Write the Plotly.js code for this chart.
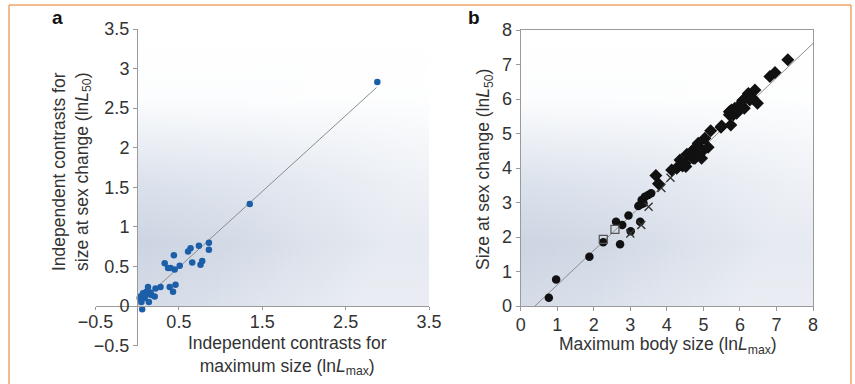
<!DOCTYPE html>
<html>
<head>
<meta charset="utf-8">
<script src="https://cdn.plot.ly/plotly-3.0.1.min.js"></script>
<style>html,body{margin:0;padding:0;background:#fff;}#chart{width:855px;height:384px;}</style>
</head>
<body>
<div id="chart"></div>
<script>
// ---------- Panel a: independent contrasts ----------
const contrastMaxSize = [0.06,0.04,0.07,0.11,0.13,0.09,0.14,0.17,0.21,0.22,0.05,0.28,0.03,0.08,0.16,0.12,0.39,0.46,0.43,0.33,0.37,0.40,0.45,0.44,0.51,0.61,0.64,0.66,0.74,0.76,0.78,0.86,0.86,1.35,2.88];
const contrastSexChange = [-0.04,0.12,0.16,0.18,0.24,0.10,0.05,0.14,0.12,0.22,0.05,0.24,0.10,0.13,0.17,0.15,0.24,0.27,0.18,0.54,0.48,0.48,0.46,0.64,0.51,0.69,0.73,0.55,0.76,0.52,0.57,0.80,0.71,1.29,2.83];
const fitAx = [0, 2.87];
const fitAy = [0.01, 2.76];
const aXTicks = [-0.5, 0.5, 1.5, 2.5, 3.5];
const aXTickText = ['\u22120.5','0.5','1.5','2.5','3.5'];
const aYTicks = [-0.5, 0, 0.5, 1, 1.5, 2, 2.5, 3, 3.5];
const aYTickText = ['\u22120.5','0','0.5','1','1.5','2','2.5','3','3.5'];

// ---------- Panel b: raw sizes ----------
const circleMax = [0.77,0.97,1.88,2.26,2.61,2.72,2.78,2.95,3.01,3.27,3.22,3.31,3.40,3.49,3.57,3.30,3.36];
const circleL50 = [0.24,0.77,1.43,1.85,2.44,1.79,2.35,2.62,2.17,2.44,2.90,3.07,3.17,3.22,3.27,2.95,2.98];
const squareMax = [2.26, 2.58];
const squareL50 = [1.93, 2.22];
const crossMax = [3.00, 3.30, 3.50, 3.85, 4.10];
const crossL50 = [2.10, 2.35, 2.88, 3.42, 3.72];
const diamondMax = [3.70,3.77,4.13,4.27,4.31,4.36,4.43,4.50,4.52,4.55,4.63,4.68,4.72,4.72,4.77,4.77,4.82,4.86,4.86,4.91,4.95,4.95,5.04,5.13,5.20,5.48,5.50,5.75,5.71,5.71,5.77,5.82,5.86,5.91,5.96,6.00,6.07,6.12,6.09,6.23,6.27,6.35,6.41,6.48,6.82,6.96,7.31];
const diamondL50 = [3.78,3.54,3.94,3.99,4.04,4.23,4.06,4.14,4.04,4.40,4.38,4.47,4.52,4.28,4.57,4.28,4.43,4.64,4.72,4.43,4.28,4.47,4.86,4.60,5.08,5.18,5.22,5.25,5.63,5.54,5.68,5.54,5.73,5.59,5.68,5.83,5.94,5.73,5.97,6.16,5.97,6.02,6.26,5.88,6.65,6.77,7.14];
const fitBx = [0.39, 8];
const fitBy = [0, 7.61];
const bTicks = [0,1,2,3,4,5,6,7,8];

const FONT = 'Liberation Sans, Arial, Helvetica, sans-serif';
const TXT = '#333333';
const AX = '#9a9a9a';

function gradientSvg() {
  const svg = "<svg xmlns='http://www.w3.org/2000/svg' width='100' height='100' viewBox='0 0 100 100' preserveAspectRatio='none'>" +
    "<defs>" +
    "<linearGradient id='v' x1='0' y1='0' x2='0' y2='1'>" +
    "<stop offset='0' stop-color='#ffffff'/>" +
    "<stop offset='0.25' stop-color='#fcfdfe'/>" +
    "<stop offset='0.55' stop-color='#d9e0eb'/>" +
    "<stop offset='0.78' stop-color='#c7d0df'/>" +
    "<stop offset='1' stop-color='#d0d8e5'/>" +
    "</linearGradient>" +
    "<linearGradient id='h' x1='0' y1='0' x2='1' y2='0.35'>" +
    "<stop offset='0' stop-color='#ffffff' stop-opacity='0'/>" +
    "<stop offset='0.5' stop-color='#ffffff' stop-opacity='0.2'/>" +
    "<stop offset='1' stop-color='#ffffff' stop-opacity='0.55'/>" +
    "</linearGradient>" +
    "</defs>" +
    "<rect x='0' y='0' width='100' height='100' fill='url(#v)'/>" +
    "<rect x='0' y='0' width='100' height='100' fill='url(#h)'/>" +
    "</svg>";
  return 'data:image/svg+xml;charset=utf-8,' + encodeURIComponent(svg);
}

const traces = [
  {x: fitAx, y: fitAy, xaxis:'x', yaxis:'y', mode:'lines', line:{color:'#8c8c8c', width:1}, hoverinfo:'skip', showlegend:false},
  {x: contrastMaxSize, y: contrastSexChange, xaxis:'x', yaxis:'y', mode:'markers', type:'scatter',
   marker:{color:'#1c5fa8', size:6.5}, showlegend:false},
  {x: fitBx, y: fitBy, xaxis:'x2', yaxis:'y2', mode:'lines', line:{color:'#8c8c8c', width:1}, hoverinfo:'skip', showlegend:false},
  {x: circleMax, y: circleL50, xaxis:'x2', yaxis:'y2', mode:'markers', marker:{symbol:'circle', color:'#111', size:8.5}, showlegend:false},
  {x: squareMax, y: squareL50, xaxis:'x2', yaxis:'y2', mode:'markers', marker:{symbol:'square-open', color:'#555', size:8, line:{width:1.2}}, showlegend:false},
  {x: crossMax, y: crossL50, xaxis:'x2', yaxis:'y2', mode:'markers', marker:{symbol:'x-thin-open', color:'#333', size:8, line:{width:1.4, color:'#333'}}, showlegend:false},
  {x: diamondMax, y: diamondL50, xaxis:'x2', yaxis:'y2', mode:'markers', marker:{symbol:'diamond', color:'#111', size:10}, showlegend:false}
];

const W = 855, H = 384;
const px = v => v / W;
const py = v => 1 - v / H;

const tickFont = {family: FONT, size: 18, color: TXT};
const titleFont = {family: FONT, size: 17.5, color: TXT};

function label(text, x, y, extra) {
  return Object.assign({text: text, xref:'paper', yref:'paper', x: px(x), y: py(y),
    xanchor:'center', yanchor:'middle', showarrow:false, font: titleFont, align:'center'}, extra || {});
}

const layout = {
  width: W, height: H,
  margin: {l:0, r:0, t:0, b:0},
  paper_bgcolor: '#ffffff',
  plot_bgcolor: 'rgba(0,0,0,0)',
  showlegend: false,
  font: {family: FONT, color: TXT},
  xaxis: {
    domain: [px(95.5), px(429)], range: [-0.5, 3.5],
    anchor: 'free', position: py(306),
    showline: true, linecolor: AX, linewidth: 1,
    ticks: 'outside', ticklen: 3, tickcolor: AX, tickwidth: 1, ticklabelstandoff: -4,
    tickvals: aXTicks, ticktext: aXTickText, tickfont: tickFont,
    showgrid: false, zeroline: false, fixedrange: true
  },
  yaxis: {
    domain: [py(345.6), py(29)], range: [-0.5, 3.5],
    anchor: 'free', position: px(137),
    showline: true, linecolor: AX, linewidth: 1,
    ticks: 'outside', ticklen: 4, tickcolor: AX, tickwidth: 1,
    tickvals: aYTicks, ticktext: aYTickText, tickfont: tickFont,
    showgrid: false, zeroline: false, fixedrange: true
  },
  xaxis2: {
    domain: [px(520.7), px(813)], range: [0, 8], anchor: 'y2',
    showline: true, mirror: true, linecolor: AX, linewidth: 1,
    ticks: 'outside', ticklen: 4, tickcolor: AX, ticklabelstandoff: -2,
    tickvals: bTicks, tickfont: tickFont,
    showgrid: false, zeroline: false, fixedrange: true
  },
  yaxis2: {
    domain: [py(306), py(30)], range: [0, 8], anchor: 'x2',
    showline: true, mirror: true, linecolor: AX, linewidth: 1,
    ticks: 'outside', ticklen: 4, tickcolor: AX,
    tickvals: bTicks, tickfont: tickFont,
    showgrid: false, zeroline: false, fixedrange: true
  },
  images: [
    {source: gradientSvg(), xref:'x', yref:'y', x:0, y:3.5, sizex:3.5, sizey:3.5, sizing:'stretch', layer:'below', xanchor:'left', yanchor:'top'},
    {source: gradientSvg(), xref:'x2', yref:'y2', x:0, y:8, sizex:8, sizey:8, sizing:'stretch', layer:'below', xanchor:'left', yanchor:'top'}
  ],
  annotations: [
    label('<b>a</b>', 57, 17, {font:{family:FONT, size:19, color:'#111'}}),
    label('<b>b</b>', 474, 17, {font:{family:FONT, size:19, color:'#111'}}),
    label('Independent contrasts for<br>maximum size (ln<i>L</i><sub>max</sub>)', 287, 355),
    label('Independent contrasts for<br>size at sex change (ln<i>L</i><sub>50</sub>)', 71, 172, {textangle:-90}),
    label('Maximum body size (ln<i>L</i><sub>max</sub>)', 668, 345),
    label('Size at sex change (ln<i>L</i><sub>50</sub>)', 485, 170, {textangle:-90})
  ],
  shapes: [
    {type:'line', xref:'paper', yref:'paper', x0:px(9), x1:px(851), y0:py(5), y1:py(5), line:{color:'#f0a468', width:1.5}},
    {type:'line', xref:'paper', yref:'paper', x0:px(9), x1:px(9), y0:py(5), y1:0, line:{color:'#f0a468', width:1.5}},
    {type:'line', xref:'paper', yref:'paper', x0:px(851), x1:px(851), y0:py(5), y1:0, line:{color:'#f0a468', width:1.5}}
  ]
};

Plotly.newPlot('chart', traces, layout, {displayModeBar:false, staticPlot:true});
</script>
</body>
</html>
